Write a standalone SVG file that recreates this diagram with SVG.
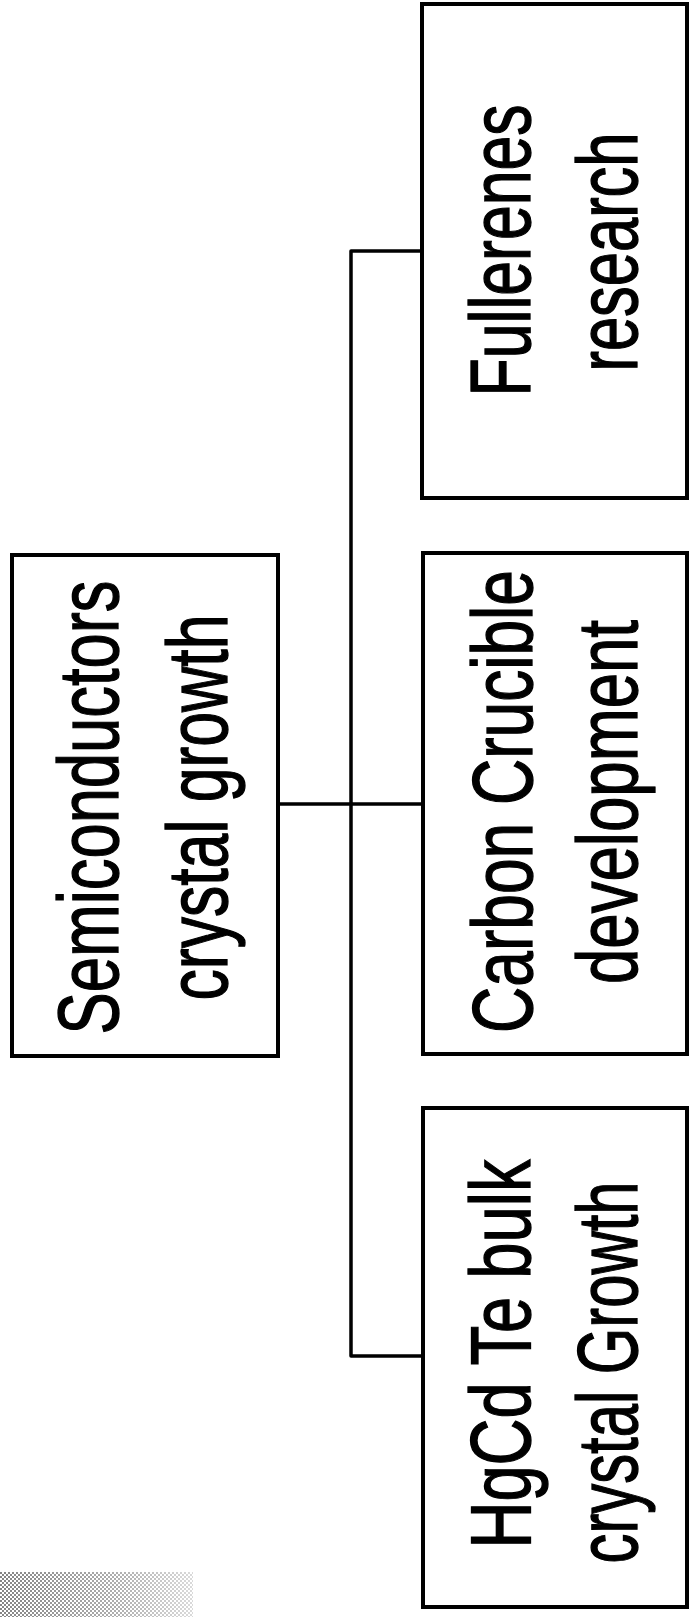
<svg xmlns="http://www.w3.org/2000/svg" width="689" height="1617" viewBox="0 0 689 1617">
  <style>
    .box { fill: #ffffff; stroke: #000000; stroke-width: 4; }
    .conn { fill: none; stroke: #000000; stroke-width: 3.5; stroke-linejoin: round; }
    .lbl { font-family: "Liberation Sans", Arial, Helvetica, sans-serif; font-size: 85px; fill: #000000; stroke: #000000; stroke-width: 1.3; text-anchor: middle; }
  </style>
  <defs>
    <pattern id="dots" x="0" y="0" width="4" height="4" patternUnits="userSpaceOnUse">
      <rect x="0" y="0" width="2" height="2" fill="#333"/>
      <rect x="2" y="2" width="2" height="2" fill="#333"/>
    </pattern>
    <linearGradient id="fade" x1="0" y1="0" x2="1" y2="0">
      <stop offset="0" stop-color="#fff" stop-opacity="0.6"/>
      <stop offset="0.6" stop-color="#fff" stop-opacity="0.4"/>
      <stop offset="1" stop-color="#fff" stop-opacity="0.18"/>
    </linearGradient>
    <mask id="fadeMask">
      <rect x="0" y="1572" width="193" height="45" fill="url(#fade)"/>
    </mask>
  </defs>
  <rect width="689" height="1617" fill="#ffffff"/>

  <g id="connectors">
    <polyline class="conn" points="422,251 351,251 351,1356 423,1356"/>
    <line class="conn" x1="278" y1="804" x2="423" y2="804"/>
  </g>

  <g id="node-fullerenes">
    <rect class="box" x="422" y="4" width="265" height="494"/>
    <text class="lbl" transform="translate(530,250.5) rotate(-90)" textLength="292" lengthAdjust="spacingAndGlyphs">Fullerenes</text>
    <text class="lbl" transform="translate(637,252) rotate(-90)" textLength="239" lengthAdjust="spacingAndGlyphs">research</text>
  </g>

  <g id="node-semiconductors">
    <rect class="box" x="12" y="555" width="266" height="501"/>
    <text class="lbl" transform="translate(118,807.5) rotate(-90)" textLength="454" lengthAdjust="spacingAndGlyphs">Semiconductors</text>
    <text class="lbl" transform="translate(227,807.5) rotate(-90)" textLength="386" lengthAdjust="spacingAndGlyphs">crystal growth</text>
  </g>

  <g id="node-carbon">
    <rect class="box" x="423" y="553" width="264" height="501"/>
    <text class="lbl" transform="translate(532,801.5) rotate(-90)" textLength="463" lengthAdjust="spacingAndGlyphs">Carbon Crucible</text>
    <text class="lbl" transform="translate(637,802) rotate(-90)" textLength="364" lengthAdjust="spacingAndGlyphs">development</text>
  </g>

  <g id="node-hgcdte">
    <rect class="box" x="423" y="1108" width="264" height="499"/>
    <text class="lbl" transform="translate(530,1354) rotate(-90)" textLength="389" lengthAdjust="spacingAndGlyphs">HgCd Te bulk</text>
    <text class="lbl" transform="translate(637,1372.5) rotate(-90)" textLength="382" lengthAdjust="spacingAndGlyphs">crystal Growth</text>
  </g>

  <rect x="0" y="1572" width="193" height="45" fill="url(#dots)" mask="url(#fadeMask)"/>
</svg>
